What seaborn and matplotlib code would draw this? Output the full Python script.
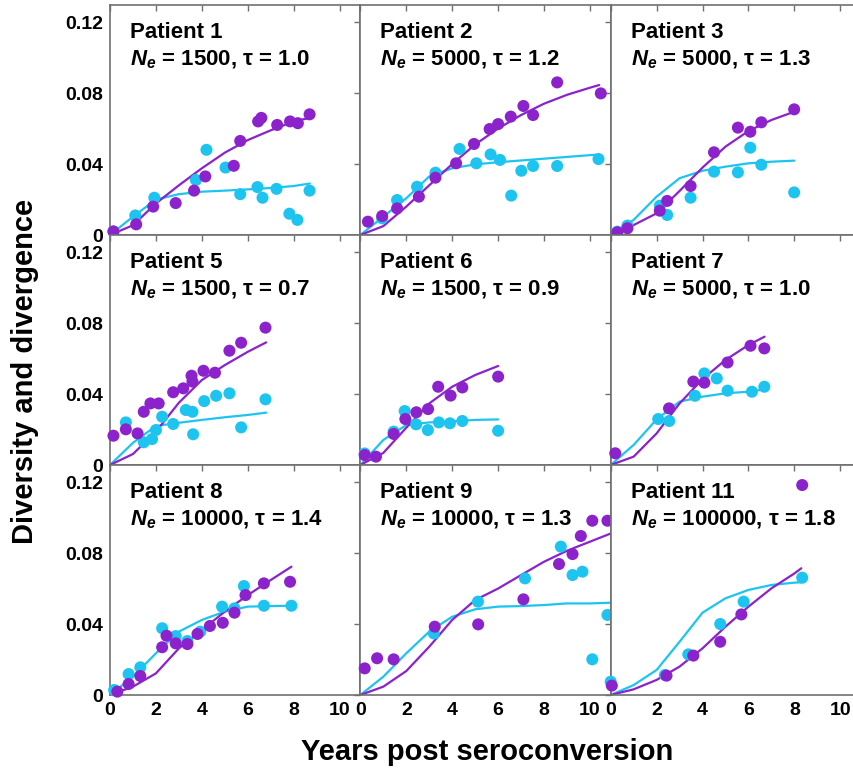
import numpy as np
import pandas as pd
import matplotlib
matplotlib.use("Agg")
import matplotlib.pyplot as plt
import seaborn as sns

# ---------------- data ----------------
patients = ["Patient 1", "Patient 2", "Patient 3",
            "Patient 5", "Patient 6", "Patient 7",
            "Patient 8", "Patient 9", "Patient 11"]
ne_values = [1500, 5000, 5000, 1500, 1500, 5000, 10000, 10000, 100000]
tau_values = [1.0, 1.2, 1.3, 0.7, 0.9, 1.0, 1.4, 1.3, 1.8]

x_ticks = [0, 2, 4, 6, 8, 10]
y_ticks = [0, 0.04, 0.08, 0.12]
y_tick_labels = ["0", "0.04", "0.08", "0.12"]

# Patient 1
p1_dvg_t = [0.15, 1.14, 1.88, 2.86, 3.66, 4.15, 5.39, 5.67, 6.45, 6.59, 7.28, 7.84, 8.18, 8.69]
p1_dvg = [0.002, 0.006, 0.016, 0.018, 0.025, 0.033, 0.039, 0.053, 0.064, 0.066, 0.062, 0.064, 0.063, 0.068]
p1_div_t = [0.15, 1.1, 1.93, 3.74, 4.2, 5.03, 5.67, 6.42, 6.64, 7.25, 7.81, 8.16, 8.69]
p1_div = [0.002, 0.011, 0.021, 0.031, 0.048, 0.038, 0.023, 0.027, 0.021, 0.026, 0.012, 0.0085, 0.025]
p1_model_t = [0, 1, 2, 3, 4, 5, 6, 7, 8, 8.7]
p1_model_dvg = [0, 0.0055, 0.0178, 0.028, 0.0376, 0.0464, 0.0535, 0.059, 0.064, 0.066]
p1_model_div = [0, 0.0103, 0.020, 0.023, 0.0244, 0.025, 0.0257, 0.0265, 0.0276, 0.029]

# Patient 2
p2_dvg_t = [0.33, 0.95, 1.6, 2.55, 3.27, 4.17, 4.95, 5.63, 6.0, 6.55, 7.1, 7.52, 8.57, 10.47]
p2_dvg = [0.0075, 0.0107, 0.015, 0.0216, 0.0323, 0.0404, 0.0513, 0.0597, 0.0625, 0.0667, 0.0727, 0.0676, 0.086, 0.0798]
p2_div_t = [0.95, 1.6, 2.47, 3.27, 4.32, 5.05, 5.67, 6.08, 6.57, 7.01, 7.52, 8.57, 10.37]
p2_div = [0.0094, 0.0197, 0.0272, 0.0351, 0.0485, 0.0404, 0.0454, 0.0423, 0.0222, 0.0362, 0.0389, 0.0389, 0.0428]
p2_model_t = [0, 1, 2, 3, 4, 5, 6, 7, 8, 9, 10, 10.4]
p2_model_dvg = [0, 0.005, 0.016, 0.028, 0.040, 0.051, 0.060, 0.0676, 0.074, 0.079, 0.083, 0.0845]
p2_model_div = [0, 0.0103, 0.0207, 0.033, 0.0376, 0.0398, 0.041, 0.042, 0.043, 0.044, 0.045, 0.0453]

# Patient 3
p3_dvg_t = [0.29, 0.73, 2.14, 2.46, 3.48, 4.5, 5.54, 6.08, 6.56, 7.99]
p3_dvg = [0.0015, 0.0038, 0.0137, 0.0192, 0.0276, 0.0466, 0.0605, 0.0582, 0.0635, 0.0708]
p3_div_t = [0.29, 0.73, 2.14, 2.46, 3.48, 4.5, 5.54, 6.08, 6.56, 7.99]
p3_div = [0.0019, 0.0053, 0.0165, 0.0113, 0.021, 0.0357, 0.0353, 0.0492, 0.0396, 0.024]
p3_model_t = [0, 1, 2, 3, 4, 5, 6, 7, 8]
p3_model_dvg = [0, 0.0056, 0.0122, 0.0248, 0.038, 0.0498, 0.0586, 0.0648, 0.0695]
p3_model_div = [0, 0.0085, 0.0216, 0.032, 0.0362, 0.0385, 0.0404, 0.0413, 0.0419]

# Patient 5
p5_dvg_t = [0.15, 0.69, 1.2, 1.47, 1.76, 2.12, 2.75, 3.19, 3.55, 3.59, 4.07, 4.57, 5.2, 5.71, 6.77]
p5_dvg = [0.0165, 0.0201, 0.0178, 0.030, 0.0347, 0.0347, 0.041, 0.0432, 0.0503, 0.047, 0.0531, 0.052, 0.0644, 0.0689, 0.0774]
p5_div_t = [0.69, 1.47, 1.83, 2.0, 2.27, 2.75, 3.3, 3.59, 3.62, 4.1, 4.62, 5.2, 5.71, 6.77]
p5_div = [0.024, 0.0128, 0.0146, 0.0197, 0.0272, 0.0231, 0.031, 0.030, 0.0173, 0.036, 0.039, 0.0404, 0.0212, 0.037]
p5_model_t = [0, 1, 2, 3, 4, 5, 6, 6.8]
p5_model_dvg = [0, 0.0062, 0.0188, 0.0351, 0.0479, 0.0563, 0.0638, 0.0691]
p5_model_div = [0, 0.0125, 0.022, 0.0238, 0.0254, 0.0269, 0.0282, 0.0295]

# Patient 6
p6_dvg_t = [0.19, 0.68, 1.45, 1.96, 2.44, 2.95, 3.39, 3.93, 4.44, 6.0]
p6_dvg = [0.0056, 0.0047, 0.0175, 0.0259, 0.0297, 0.0315, 0.0441, 0.0391, 0.0437, 0.0498]
p6_div_t = [0.19, 1.45, 1.93, 2.43, 2.94, 3.42, 3.9, 4.44, 6.0]
p6_div = [0.0065, 0.0188, 0.0304, 0.0229, 0.0197, 0.024, 0.0235, 0.0248, 0.0193]
p6_model_t = [0, 1, 2, 3, 4, 5, 6]
p6_model_dvg = [0, 0.0068, 0.021, 0.0347, 0.0441, 0.0507, 0.0558]
p6_model_div = [0, 0.0141, 0.0225, 0.024, 0.0246, 0.0254, 0.0257]

# Patient 7
p7_dvg_t = [0.2, 2.54, 3.6, 4.08, 5.09, 6.09, 6.69]
p7_dvg = [0.0066, 0.0319, 0.047, 0.0464, 0.0578, 0.0672, 0.0657]
p7_div_t = [2.07, 2.55, 3.67, 4.08, 4.62, 5.09, 6.15, 6.69]
p7_div = [0.0259, 0.0248, 0.039, 0.0516, 0.0488, 0.0419, 0.0413, 0.0441]
p7_model_t = [0, 1, 2, 3, 4, 5, 6, 6.7]
p7_model_dvg = [0, 0.0047, 0.0178, 0.0347, 0.0484, 0.0592, 0.0676, 0.0723]
p7_model_div = [0, 0.0113, 0.0257, 0.0357, 0.0385, 0.0404, 0.0413, 0.0426]

# Patient 8
p8_dvg_t = [0.32, 0.81, 1.32, 2.27, 2.46, 2.86, 3.37, 3.81, 4.35, 4.91, 5.42, 5.9, 6.7, 7.84]
p8_dvg = [0.0019, 0.0062, 0.0107, 0.0269, 0.0334, 0.0291, 0.0287, 0.0344, 0.0389, 0.0407, 0.0464, 0.0563, 0.0629, 0.0638]
p8_div_t = [0.18, 0.81, 1.32, 2.27, 2.86, 3.37, 3.93, 4.88, 5.42, 5.83, 6.7, 7.9]
p8_div = [0.0028, 0.0118, 0.0156, 0.0376, 0.0332, 0.0304, 0.0357, 0.0498, 0.0488, 0.0614, 0.0503, 0.0503]
p8_model_t = [0, 1, 2, 3, 4, 5, 6, 7, 7.9]
p8_model_dvg = [0, 0.0047, 0.0122, 0.0263, 0.0366, 0.047, 0.0563, 0.0648, 0.0723]
p8_model_div = [0, 0.0103, 0.0235, 0.0357, 0.0423, 0.047, 0.0498, 0.0501, 0.0503]

# Patient 9
p9_dvg_t = [0.19, 0.73, 1.45, 3.24, 5.13, 7.1, 8.65, 9.24, 9.6, 10.1, 10.76]
p9_dvg = [0.015, 0.0207, 0.0201, 0.0385, 0.0398, 0.0539, 0.0738, 0.0794, 0.0896, 0.0982, 0.0982]
p9_div_t = [3.2, 5.12, 7.17, 8.73, 9.24, 9.67, 10.1, 10.76]
p9_div = [0.0347, 0.0526, 0.0657, 0.0836, 0.0676, 0.0695, 0.0201, 0.0451]
p9_model_t = [0, 1, 2, 3, 4, 5, 6, 7, 8, 9, 10, 10.9]
p9_model_dvg = [0, 0.0047, 0.0135, 0.0272, 0.0423, 0.0535, 0.060, 0.0676, 0.0751, 0.0813, 0.0864, 0.091]
p9_model_div = [0, 0.0103, 0.0235, 0.0357, 0.0441, 0.0483, 0.0498, 0.0501, 0.0507, 0.0516, 0.0516, 0.052]

# Patient 11
p11_dvg_t = [0.05, 2.43, 3.6, 4.77, 5.69, 8.34]
p11_dvg = [0.0053, 0.0109, 0.0222, 0.030, 0.0454, 0.1183]
p11_div_t = [0.0, 2.36, 3.38, 4.77, 5.79, 8.34]
p11_div = [0.0075, 0.0113, 0.0229, 0.040, 0.0526, 0.0661]
p11_model_t = [0, 1, 2, 3, 4, 5, 6, 7, 8, 8.3]
p11_model_dvg = [0, 0.0032, 0.0085, 0.016, 0.0263, 0.0385, 0.0498, 0.0601, 0.0685, 0.0714]
p11_model_div = [0, 0.0056, 0.0141, 0.030, 0.0464, 0.0545, 0.0592, 0.062, 0.0633, 0.0635]

panel_data = [
    (p1_dvg_t, p1_dvg, p1_div_t, p1_div, p1_model_t, p1_model_dvg, p1_model_div),
    (p2_dvg_t, p2_dvg, p2_div_t, p2_div, p2_model_t, p2_model_dvg, p2_model_div),
    (p3_dvg_t, p3_dvg, p3_div_t, p3_div, p3_model_t, p3_model_dvg, p3_model_div),
    (p5_dvg_t, p5_dvg, p5_div_t, p5_div, p5_model_t, p5_model_dvg, p5_model_div),
    (p6_dvg_t, p6_dvg, p6_div_t, p6_div, p6_model_t, p6_model_dvg, p6_model_div),
    (p7_dvg_t, p7_dvg, p7_div_t, p7_div, p7_model_t, p7_model_dvg, p7_model_div),
    (p8_dvg_t, p8_dvg, p8_div_t, p8_div, p8_model_t, p8_model_dvg, p8_model_div),
    (p9_dvg_t, p9_dvg, p9_div_t, p9_div, p9_model_t, p9_model_dvg, p9_model_div),
    (p11_dvg_t, p11_dvg, p11_div_t, p11_div, p11_model_t, p11_model_dvg, p11_model_div),
]

# ---------------- style ----------------
sns.set_theme(style="white")
plt.rcParams["font.family"] = ["Liberation Sans", "DejaVu Sans"]
plt.rcParams["mathtext.fontset"] = "custom"
plt.rcParams["mathtext.it"] = "Liberation Sans:italic:bold"
plt.rcParams["mathtext.rm"] = "Liberation Sans:bold"
plt.rcParams["mathtext.bf"] = "Liberation Sans:bold"
plt.rcParams["text.color"] = "black"
plt.rcParams["axes.labelcolor"] = "black"
plt.rcParams["xtick.color"] = "black"
plt.rcParams["ytick.color"] = "black"

PURPLE = "#8B22CC"
CYAN = "#1EC4F0"
SPINE = "#707070"
palette = {"diversity": CYAN, "divergence": PURPLE}

W, H = 854, 773
fig, axes = plt.subplots(3, 3, figsize=(W / 100, H / 100), dpi=100, sharex=False, sharey=False)
fig.subplots_adjust(left=110 / W, right=861 / W, top=1 - 5 / H, bottom=1 - 695 / H,
                    wspace=0, hspace=0)

for idx, ax in enumerate(axes.flat):
    dvg_t, dvg, div_t, div, mt, mdvg, mdiv = panel_data[idx]
    pts = pd.concat([
        pd.DataFrame({"t": div_t, "v": div, "kind": "diversity"}),
        pd.DataFrame({"t": dvg_t, "v": dvg, "kind": "divergence"}),
    ], ignore_index=True)
    lines = pd.concat([
        pd.DataFrame({"t": mt, "v": mdiv, "kind": "diversity"}),
        pd.DataFrame({"t": mt, "v": mdvg, "kind": "divergence"}),
    ], ignore_index=True)

    sns.lineplot(data=lines, x="t", y="v", hue="kind", palette=palette,
                 hue_order=["diversity", "divergence"], estimator=None, sort=False,
                 legend=False, linewidth=1.6, ax=ax)
    sns.scatterplot(data=pts, x="t", y="v", hue="kind", palette=palette,
                    hue_order=["diversity", "divergence"], s=75, linewidth=0,
                    legend=False, ax=ax, clip_on=False, zorder=3)

    ax.set_xlim(0, 10.9)
    ax.set_ylim(0, 0.1296)
    ax.set_xticks(x_ticks)
    ax.set_yticks(y_ticks)
    ax.set_xlabel("")
    ax.set_ylabel("")
    row, col = divmod(idx, 3)
    if col == 0:
        ax.set_yticklabels(y_tick_labels)
    else:
        ax.set_yticklabels([])
    if row == 2:
        ax.set_xticklabels([str(v) for v in x_ticks])
    else:
        ax.set_xticklabels([])
    ax.tick_params(direction="in", top=True, right=True, length=4, width=1,
                   color=SPINE, labelcolor="black", labelsize=14, pad=5)
    for lab in ax.get_xticklabels() + ax.get_yticklabels():
        lab.set_fontweight("bold")
    for sp in ax.spines.values():
        sp.set_color(SPINE)
        sp.set_linewidth(1.2)

    ax.text(0.08, 0.857, patients[idx], transform=ax.transAxes, color="black",
            fontsize=16, fontweight="bold", va="baseline", ha="left")
    ax.text(0.08, 0.739, r"$\mathit{N}_{\mathit{e}}$" + f" = {ne_values[idx]}, \u03c4 = {tau_values[idx]:.1f}",
            transform=ax.transAxes, fontsize=16, fontweight="bold", va="baseline", ha="left",
            color="black")

fig.text(25 / W, 1 - 371 / H, "Diversity and divergence", rotation=90,
         ha="center", va="center", fontsize=21, fontweight="bold", color="black")
fig.text(487 / W, 1 - 752 / H, "Years post seroconversion",
         ha="center", va="center", fontsize=21, fontweight="bold", color="black")

fig.savefig("out.png", dpi=100)
